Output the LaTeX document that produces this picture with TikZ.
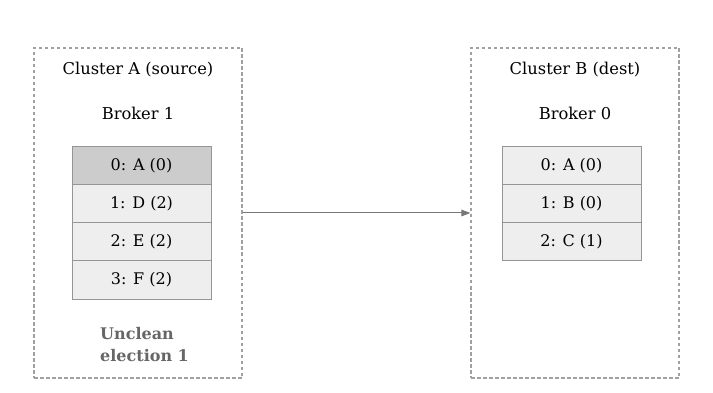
\documentclass[tikz,border=0pt]{standalone}
\usepackage{fontspec}
\setmainfont{DejaVu Serif}
\usetikzlibrary{arrows.meta}
\definecolor{dashgray}{HTML}{A0A0A0}
\definecolor{cellborder}{HTML}{959595}
\definecolor{cellfill}{HTML}{EEEEEE}
\definecolor{cellhi}{HTML}{CCCCCC}
\definecolor{notegray}{HTML}{666666}
\definecolor{arrowgray}{HTML}{777777}
\tikzset{
  cluster/.style={draw=dashgray, dashed, dash pattern=on 3.5pt off 2.5pt, line width=1.1pt, minimum width=208pt, minimum height=330pt, inner sep=0pt},
  cell/.style={draw=cellborder, fill=cellfill, line width=1pt, minimum width=139pt, minimum height=38pt, inner sep=0pt, font=\fontsize{16}{18}\selectfont},
  hicell/.style={cell, fill=cellhi},
  label/.style={font=\fontsize{16.3}{18}\selectfont, inner sep=0pt},
  note/.style={font=\fontsize{16}{22}\selectfont\bfseries, text=notegray, align=left, inner sep=0pt},
  link/.style={draw=arrowgray, line width=1pt, -{Triangle[length=9pt,width=6.5pt]}}
}
\begin{document}
\begin{tikzpicture}[x=1pt,y=-1pt]
\useasboundingbox (0,0) rectangle (713,393);
\node[cluster] (ca) at (138,213) {};
\node[cluster] (cb) at (575,213) {};
\node[label] (ta) at (138,70) {Cluster A (source)};
\node[label] (ba) at (138,113) {Broker 1};
\node[hicell] (a0) at (141.5,166) {0: A (0)};
\node[cell] (a1) at (141.5,204) {1: D (2)};
\node[cell] (a2) at (141.5,242) {2: E (2)};
\node[cell] (a3) at (141.5,280) {3: F (2)};
\node[note, anchor=west] (un) at (100,345) {Unclean\\election 1};
\node[label] (tb) at (575,70) {Cluster B (dest)};
\node[label] (bb) at (575,113) {Broker 0};
\node[cell] (b0) at (571.5,166) {0: A (0)};
\node[cell] (b1) at (571.5,204) {1: B (0)};
\node[cell] (b2) at (571.5,242) {2: C (1)};
\draw[link] (ca.east |- 0,213) -- (cb.west |- 0,213);
\end{tikzpicture}
\end{document}
